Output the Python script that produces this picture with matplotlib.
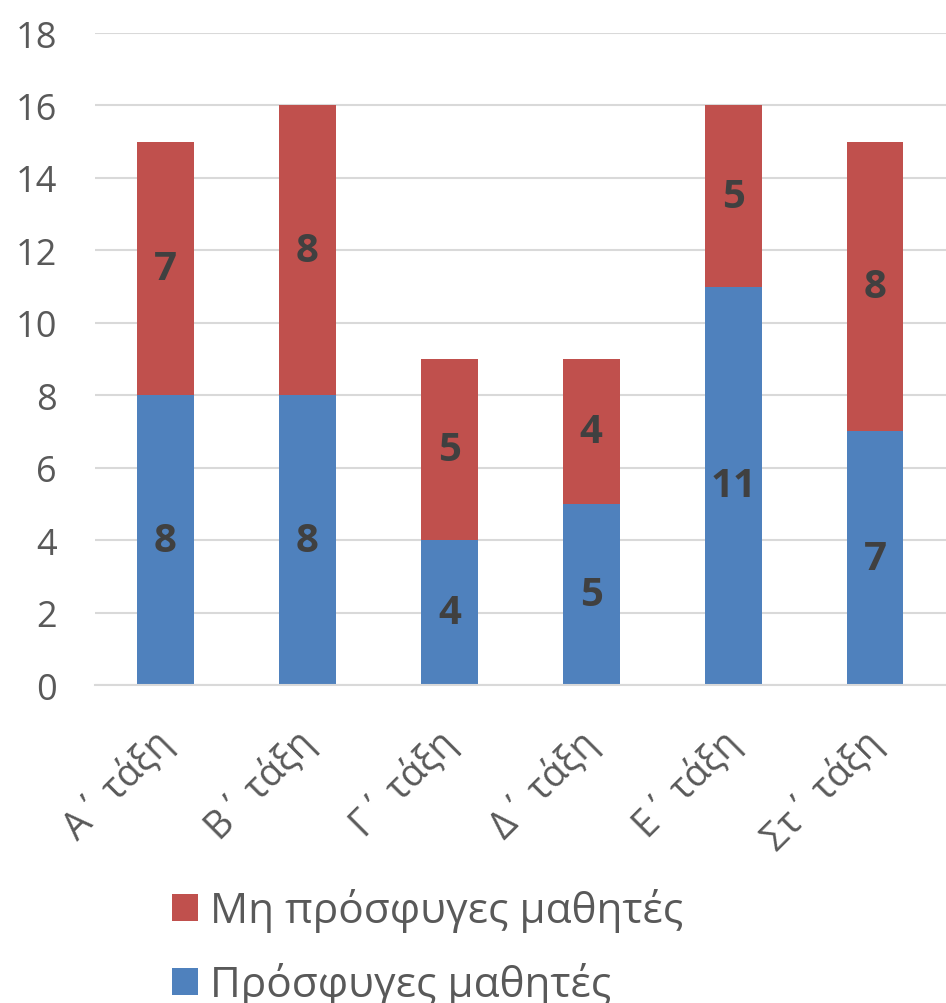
import matplotlib.pyplot as plt
import matplotlib.transforms as mtransforms
import numpy as np

plt.rcParams['font.family'] = ['Open Sans', 'DejaVu Sans']

# δεδομένα
taxeis = ['Α΄ τάξη', 'Β΄ τάξη', 'Γ΄ τάξη', 'Δ΄ τάξη', 'Ε΄ τάξη', 'Στ΄ τάξη']
prosfyges = [8, 8, 4, 5, 11, 7]
mi_prosfyges = [7, 8, 5, 4, 5, 8]
yticks = [0, 2, 4, 6, 8, 10, 12, 14, 16, 18]

blue = '#4F81BD'
red = '#C0504D'
text_col = '#595959'
label_col = '#404040'

fig = plt.figure(figsize=(9.46, 10.04), dpi=100)
ax = fig.add_axes([0.1, 0.3167, 0.9, 0.6494])

x = np.arange(len(taxeis))
b1 = ax.bar(x, prosfyges, width=0.4, color=blue, zorder=2)
b2 = ax.bar(x, mi_prosfyges, width=0.4, bottom=prosfyges, color=red, zorder=2)

for bars in (b1, b2):
    ax.bar_label(bars, label_type='center', fontsize=29, fontweight='bold',
                 color=label_col)

ax.set_xlim(-0.5, len(taxeis) - 0.5)
ax.set_ylim(0, 18)
ax.set_yticks(yticks)
ax.yaxis.grid(True, color='#d9d9d9', linewidth=1.5, zorder=0)
ax.set_axisbelow(True)

for s in ['top', 'right', 'left']:
    ax.spines[s].set_visible(False)
ax.spines['bottom'].set_color('#d9d9d9')
ax.spines['bottom'].set_linewidth(1.5)

ax.tick_params(axis='both', length=0, labelsize=26, labelcolor=text_col)
ax.tick_params(axis='y', pad=27)
ax.set_xticks(x)
ax.set_xticklabels(taxeis, rotation=45, ha='right', rotation_mode='anchor',
                   fontsize=27)
ax.tick_params(axis='x', pad=22)
offset = mtransforms.ScaledTranslation(-0.14, -0.06, fig.dpi_scale_trans)
for lbl in ax.get_xticklabels():
    lbl.set_transform(lbl.get_transform() + offset)

fig.legend([b2, b1], ['Μη πρόσφυγες μαθητές', 'Πρόσφυγες μαθητές'],
           loc='upper left', bbox_to_anchor=(0.164, 0.131), ncol=1,
           frameon=False, fontsize=30.5, labelcolor=text_col,
           handlelength=0.6, handleheight=0.6, handletextpad=0.3,
           labelspacing=0.7, borderaxespad=0)

fig.savefig('out.png', dpi=100)
